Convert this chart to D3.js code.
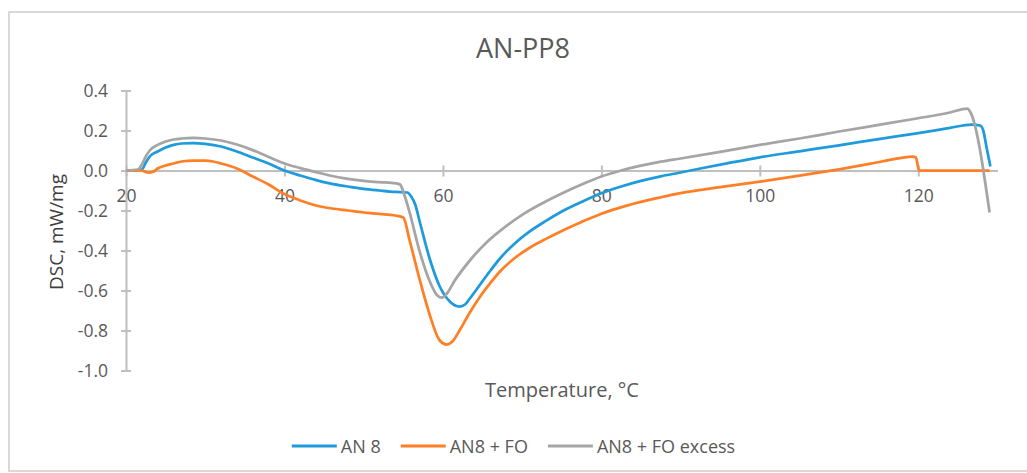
<!DOCTYPE html>
<html>
<head>
<meta charset="utf-8">
<script src="https://cdn.jsdelivr.net/npm/d3@7"></script>
<style>
  html, body { margin: 0; padding: 0; background: #fff; }
  svg { display: block; font-family: "Open Sans", "Noto Sans", sans-serif; }
</style>
</head>
<body>
<svg id="chart" width="1027" height="473"></svg>
<script>
// DSC curves: [temperature °C, DSC mW/mg]
const an8 = [
  [20, 0], [21, 0], [22, 0.005], [22.5, 0.04], [23, 0.07], [24, 0.095], [25, 0.115],
  [26, 0.128], [27, 0.135], [28.5, 0.137], [30, 0.133], [32, 0.12], [34, 0.095],
  [36, 0.065], [38, 0.035], [40, 0.0], [42, -0.025], [44, -0.048], [46, -0.067],
  [48, -0.08], [50, -0.092], [52, -0.1], [54, -0.107], [55.5, -0.11], [56, -0.13],
  [56.5, -0.17], [57.1, -0.26], [58.4, -0.45], [59.6, -0.58], [60.9, -0.656],
  [62.1, -0.68], [62.8, -0.67], [63.4, -0.64], [64.7, -0.57], [66, -0.5],
  [67.2, -0.44], [69, -0.367], [71, -0.303], [73, -0.252], [75, -0.205], [77.5, -0.157],
  [80, -0.114], [82.5, -0.08], [85, -0.052], [87.5, -0.029], [90, -0.01],
  [92.5, 0.01], [96, 0.037], [100, 0.066], [105, 0.096], [110, 0.126], [115, 0.157],
  [119.8, 0.186], [124, 0.213], [126.7, 0.23], [127.8, 0.225], [128.2, 0.2],
  [128.6, 0.12], [129.1, 0.02]
];
const an8fo = [
  [20, 0], [22, 0], [22.5, -0.008], [23, -0.01], [23.5, -0.005], [24, 0.01],
  [25, 0.025], [26, 0.035], [27, 0.045], [28.5, 0.05], [30, 0.05], [31, 0.045],
  [32, 0.035], [34, 0.01], [36, -0.03], [38, -0.07], [40, -0.118], [42, -0.15],
  [44, -0.175], [46, -0.19], [48, -0.2], [50, -0.21], [52, -0.217], [54, -0.225],
  [55, -0.235], [55.8, -0.35], [57.1, -0.55], [58.4, -0.73], [59.6, -0.85],
  [60.5, -0.87], [61.2, -0.855], [62.1, -0.8], [63.4, -0.71], [64.7, -0.63],
  [66, -0.562], [67.2, -0.505], [69, -0.44], [71, -0.385], [73, -0.342], [75, -0.302],
  [77.5, -0.257], [80, -0.216], [83, -0.178], [87.4, -0.135], [90, -0.113],
  [95, -0.083], [100, -0.056], [105, -0.026], [110, 0.006], [114, 0.034],
  [117.7, 0.062], [119.3, 0.069], [119.7, 0.065], [120.1, 0.0], [129, 0]
];
const an8foExcess = [
  [20, 0], [21.5, 0.005], [22, 0.03], [22.5, 0.07], [23, 0.1], [24, 0.128],
  [25, 0.145], [26, 0.155], [27, 0.16], [28.5, 0.163], [30, 0.16], [32, 0.15],
  [34, 0.13], [36, 0.102], [38, 0.068], [40, 0.035], [42, 0.012], [44, -0.008],
  [45.7, -0.025], [48, -0.042], [50, -0.052], [52, -0.058], [54.1, -0.064],
  [54.6, -0.07], [55.2, -0.13], [55.8, -0.21], [57.1, -0.41], [58.4, -0.56],
  [59.3, -0.625], [59.9, -0.636], [60.5, -0.615], [61.5, -0.55], [63.4, -0.45],
  [65.5, -0.36], [67.6, -0.29], [70, -0.222], [72.5, -0.165], [75, -0.115],
  [77.5, -0.07], [80, -0.03], [82.5, 0.0], [85, 0.024], [87.5, 0.044], [90, 0.06],
  [95, 0.093], [100, 0.128], [105, 0.16], [110, 0.195], [115, 0.228], [119.8, 0.26],
  [124, 0.29], [126.2, 0.31], [126.6, 0.29], [129, -0.21]
];

const seriesNames = ['AN 8', 'AN8 + FO', 'AN8 + FO excess'];
const seriesColors = ['#1f9bdc', '#ff7f27', '#a5a5a5'];
const xTicks = [20, 40, 60, 80, 100, 120];
const yTicks = [0.4, 0.2, 0.0, -0.2, -0.4, -0.6, -0.8, -1.0];

const series = [an8, an8fo, an8foExcess].map((pts, i) => ({
  name: seriesNames[i], color: seriesColors[i], points: pts
}));

const svg = d3.select('#chart');
const textColor = '#595959';
const axisColor = '#bfbfbf';

// chart frame
svg.append('rect')
  .attr('x', 9).attr('y', 12)
  .attr('width', 1030).attr('height', 459)
  .attr('fill', 'none')
  .attr('stroke', '#d9d9d9')
  .attr('stroke-width', 2);

const x = d3.scaleLinear().domain([20, 130]).range([126, 997.5]);
const y = d3.scaleLinear().domain([-1, 0.4]).range([370.5, 90.5]);

// y axis
const yAxis = svg.append('g')
  .attr('transform', `translate(${x(20)},0)`)
  .call(d3.axisLeft(y).tickValues(yTicks).tickFormat(d => d.toFixed(1)).tickSize(0).tickPadding(18));
yAxis.select('.domain').attr('stroke', axisColor).attr('stroke-width', 2);
yAxis.selectAll('.tick line').attr('x1', -5).attr('x2', 5).attr('stroke', axisColor).attr('stroke-width', 2);
yAxis.selectAll('.tick text').attr('fill', textColor).style('font-size', '17.5px')
  .style('font-family', '"Open Sans", sans-serif');

// x axis, crossing at 0
const xAxis = svg.append('g')
  .attr('transform', `translate(0,${y(0)})`)
  .call(d3.axisBottom(x).tickValues(xTicks).tickFormat(d3.format('d')).tickSize(0).tickSizeOuter(0).tickPadding(19));
xAxis.select('.domain').attr('stroke', axisColor).attr('stroke-width', 2);
xAxis.selectAll('.tick line').attr('y1', -5).attr('y2', 6).attr('stroke', axisColor).attr('stroke-width', 2);
xAxis.selectAll('.tick text').attr('fill', textColor).style('font-size', '17.5px')
  .style('font-family', '"Open Sans", sans-serif');

// lines
const line = d3.line()
  .x(d => x(d[0]))
  .y(d => y(d[1]))
  .curve(d3.curveMonotoneX);

svg.append('g').selectAll('path.series')
  .data(series)
  .enter()
  .append('path')
  .attr('class', 'series')
  .attr('d', d => line(d.points))
  .attr('fill', 'none')
  .attr('stroke', d => d.color)
  .attr('stroke-width', 2.75)
  .attr('stroke-linejoin', 'round');

// titles
svg.append('text')
  .attr('x', 523).attr('y', 58)
  .attr('text-anchor', 'middle')
  .attr('fill', textColor)
  .style('font-size', '27px')
  .text('AN-PP8');

svg.append('text')
  .attr('x', 562).attr('y', 397)
  .attr('text-anchor', 'middle')
  .attr('fill', textColor)
  .style('font-size', '20px')
  .text('Temperature, °C');

svg.append('text')
  .attr('transform', 'translate(63,232) rotate(-90)')
  .attr('text-anchor', 'middle')
  .attr('fill', '#404040')
  .style('font-size', '19px')
  .text('DSC, mW/mg');

// legend
const legend = svg.append('g');
const items = legend.selectAll('g.item')
  .data(series)
  .enter()
  .append('g')
  .attr('class', 'item');
items.append('line')
  .attr('x1', 0).attr('x2', 45)
  .attr('y1', 0).attr('y2', 0)
  .attr('stroke', d => d.color)
  .attr('stroke-width', 3);
items.append('text')
  .attr('x', 49).attr('y', 6.5)
  .attr('fill', textColor)
  .style('font-size', '18px')
  .text(d => d.name);

const widths = [];
items.each(function () {
  widths.push(49 + this.querySelector('text').getComputedTextLength());
});
const gap = 20;
const total = d3.sum(widths) + gap * (widths.length - 1);
let cx = 513.5 - total / 2;
items.attr('transform', (d, i) => {
  const t = `translate(${cx},446)`;
  cx += widths[i] + gap;
  return t;
});
</script>
</body>
</html>
